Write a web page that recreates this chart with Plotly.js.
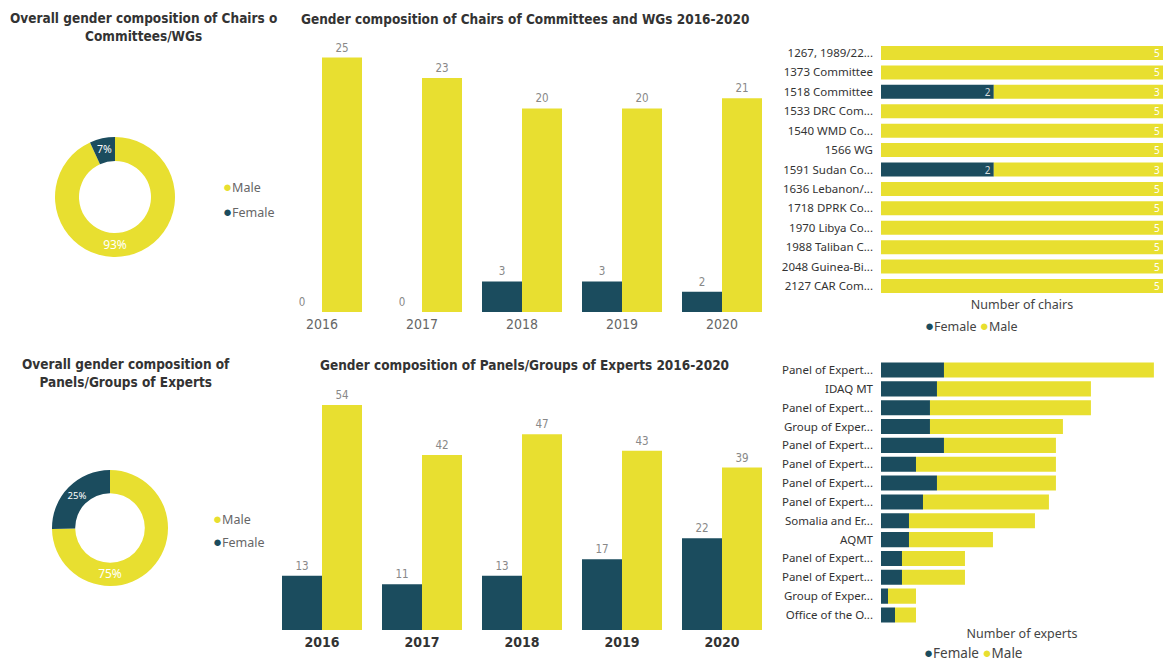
<!DOCTYPE html>
<html>
<head>
<meta charset="utf-8">
<script src="https://cdn.plot.ly/plotly-3.0.1.min.js"></script>
<style>html,body{margin:0;padding:0;background:#fff;}#chart{width:1166px;height:663px;}</style>
</head>
<body>
<div id="chart"></div>
<script>
// ---------- data ----------
const genders = ["Male", "Female"];
const chairsOverall = [109, 8];      // Male, Female
const expertsOverall = [225, 76];    // Male, Female

const years = ["2016", "2017", "2018", "2019", "2020"];
const chairsFemaleByYear = [0, 0, 3, 3, 2];
const chairsMaleByYear = [25, 23, 20, 20, 21];
const expertsFemaleByYear = [13, 11, 13, 17, 22];
const expertsMaleByYear = [54, 42, 47, 43, 39];

const committees = ["1267, 1989/22...", "1373 Committee", "1518 Committee", "1533 DRC Com...", "1540 WMD Co...", "1566 WG", "1591 Sudan Co...", "1636 Lebanon/...", "1718 DPRK Co...", "1970 Libya Co...", "1988 Taliban C...", "2048 Guinea-Bi...", "2127 CAR Com..."];
const committeeFemale = [0, 0, 2, 0, 0, 0, 2, 0, 0, 0, 0, 0, 0];
const committeeMale = [5, 5, 3, 5, 5, 5, 3, 5, 5, 5, 5, 5, 5];

const panels = ["Panel of Expert...", "IDAQ MT", "Panel of Expert...", "Group of Exper...", "Panel of Expert...", "Panel of Expert...", "Panel of Expert...", "Panel of Expert...", "Somalia and Er...", "AQMT", "Panel of Expert...", "Panel of Expert...", "Group of Exper...", "Office of the O..."];
const panelFemale = [9, 8, 7, 7, 9, 5, 8, 6, 4, 4, 3, 3, 1, 2];
const panelMale = [30, 22, 23, 19, 16, 20, 17, 18, 18, 12, 9, 9, 4, 3];

// ---------- style ----------
const YEL = "#E8DF30";
const TEAL = "#1B4C5E";
const W = 1166, H = 663;
const px = v => v / W;
const py = v => 1 - v / H;
const TITLE_FONT = {family: "DejaVu Sans Condensed, DejaVu Sans", size: 13.5, color: "#333"};
const UI = "Noto Sans, Open Sans, sans-serif";
const LABEL_FONT = {family: "DejaVu Sans Condensed", size: 11.5, color: "#888"};

const traces = [];

// Donuts
traces.push({
  type: "pie", labels: genders, values: chairsOverall, hole: 0.6, sort: false,
  direction: "clockwise", marker: {colors: [YEL, TEAL]},
  textinfo: "percent", texttemplate: "%{percent:.0%}", textposition: "inside", insidetextorientation: "horizontal",
  textfont: {family: UI, size: 12, color: "#fff"},
  domain: {x: [px(55), px(175)], y: [py(257), py(137)]}, showlegend: false
});
traces.push({
  type: "pie", labels: genders, values: expertsOverall, hole: 0.6, sort: false,
  direction: "clockwise", marker: {colors: [YEL, TEAL]},
  textinfo: "percent", texttemplate: "%{percent:.0%}", textposition: "inside", insidetextorientation: "horizontal",
  textfont: {family: UI, size: 12, color: "#fff"},
  domain: {x: [px(52), px(168)], y: [py(586), py(470)]}, showlegend: false
});

// Yearly bars - chairs
traces.push({type: "bar", x: years, y: chairsFemaleByYear, name: "Female", marker: {color: TEAL},
  text: chairsFemaleByYear.map(String), textposition: "outside", cliponaxis: false,
  textfont: LABEL_FONT, xaxis: "x", yaxis: "y", showlegend: false});
traces.push({type: "bar", x: years, y: chairsMaleByYear, name: "Male", marker: {color: YEL},
  text: chairsMaleByYear.map(String), textposition: "outside", cliponaxis: false,
  textfont: LABEL_FONT, xaxis: "x", yaxis: "y", showlegend: false});

// Yearly bars - experts
traces.push({type: "bar", x: years, y: expertsFemaleByYear, name: "Female", marker: {color: TEAL},
  text: expertsFemaleByYear.map(String), textposition: "outside", cliponaxis: false,
  textfont: LABEL_FONT, xaxis: "x2", yaxis: "y2", showlegend: false});
traces.push({type: "bar", x: years, y: expertsMaleByYear, name: "Male", marker: {color: YEL},
  text: expertsMaleByYear.map(String), textposition: "outside", cliponaxis: false,
  textfont: LABEL_FONT, xaxis: "x2", yaxis: "y2", showlegend: false});

// Committees hbar (stacked via shared offsetgroup + base)
traces.push({type: "bar", orientation: "h", y: committees, x: committeeFemale, name: "Female", marker: {color: TEAL},
  offsetgroup: "c", width: 0.72, textangle: 0, constraintext: "none",
  text: committeeFemale.map(v => v > 0 ? String(v) : ""), textposition: "inside", insidetextanchor: "end",
  textfont: {family: UI, size: 10, color: "#ddd"}, xaxis: "x3", yaxis: "y3", showlegend: false});
traces.push({type: "bar", orientation: "h", y: committees, x: committeeMale, base: committeeFemale, name: "Male", marker: {color: YEL},
  offsetgroup: "c", width: 0.72, textangle: 0, constraintext: "none",
  text: committeeMale.map(String), textposition: "inside", insidetextanchor: "end",
  textfont: {family: UI, size: 10, color: "#fff"}, xaxis: "x3", yaxis: "y3", showlegend: false});

// Panels hbar (numeric positions keep duplicate labels separate)
const panelPos = panels.map((_, i) => i);
traces.push({type: "bar", orientation: "h", y: panelPos, x: panelFemale, name: "Female", marker: {color: TEAL},
  offsetgroup: "p", width: 0.8, xaxis: "x4", yaxis: "y4", showlegend: false});
traces.push({type: "bar", orientation: "h", y: panelPos, x: panelMale, base: panelFemale, name: "Male", marker: {color: YEL},
  offsetgroup: "p", width: 0.8, xaxis: "x4", yaxis: "y4", showlegend: false});

function dot(color, size) {
  return '<span style="color:' + color + ';font-size:' + size + 'px">●</span>';
}
function legendAnn(text, x, y, anchor, size, color) {
  return {text: text, x: px(x), y: py(y), xref: "paper", yref: "paper", xanchor: anchor, yanchor: "middle",
    showarrow: false, font: {family: UI, size: size, color: color}};
}

const layout = {
  width: W, height: H, margin: {l: 0, r: 0, t: 0, b: 0},
  paper_bgcolor: "#fff", plot_bgcolor: "#fff",
  barmode: "group", bargap: 0.2, bargroupgap: 0,
  showlegend: false,
  xaxis: {domain: [px(272), px(772)], type: "category", showgrid: false, zeroline: false, showline: false, ticks: "",
    ticklabelstandoff: 2, tickfont: {family: "DejaVu Sans Condensed", size: 14, color: "#666"}, anchor: "y", fixedrange: true},
  yaxis: {domain: [py(312), py(27)], range: [0, 28], visible: false, anchor: "x", fixedrange: true},
  xaxis2: {domain: [px(272), px(772)], type: "category", showgrid: false, zeroline: false, showline: false, ticks: "",
    ticklabelstandoff: 2, tickfont: {family: "DejaVu Sans Condensed", size: 14, color: "#333", weight: "bold"}, anchor: "y2", fixedrange: true},
  yaxis2: {domain: [py(630), py(380)], range: [0, 60], visible: false, anchor: "x2", fixedrange: true},
  xaxis3: {domain: [px(881), px(1163)], range: [0, 5], showgrid: false, zeroline: false, showticklabels: false, ticks: "",
    title: {text: "Number of chairs", font: {family: UI, size: 12.5, color: "#444"}, standoff: 4}, anchor: "y3", fixedrange: true},
  yaxis3: {domain: [py(295.7), py(43.3)], type: "category", autorange: "reversed", showgrid: false, ticks: "",
    ticklabelstandoff: 7, tickfont: {family: UI, size: 11.5, color: "#333"}, anchor: "x3", fixedrange: true},
  xaxis4: {domain: [px(881), px(1163)], range: [0, 40.3], showgrid: false, zeroline: false, showticklabels: false, ticks: "",
    title: {text: "Number of experts", font: {family: UI, size: 12.5, color: "#444"}, standoff: 4}, anchor: "y4", fixedrange: true},
  yaxis4: {domain: [py(624.4), py(360.6)], range: [panels.length - 0.5, -0.5], tickmode: "array", tickvals: panelPos, ticktext: panels,
    showgrid: false, zeroline: false, ticks: "", ticklabelstandoff: 7, tickfont: {family: UI, size: 11.5, color: "#333"}, anchor: "x4", fixedrange: true},
  annotations: [
    {text: "<b>Overall gender composition of Chairs o</b><br><b>Committees/WGs</b>", x: px(143), y: py(8), xref: "paper", yref: "paper",
      xanchor: "center", yanchor: "top", showarrow: false, font: TITLE_FONT, align: "center"},
    {text: "<b>Gender composition of Chairs of Committees and WGs 2016-2020</b>", x: px(525), y: py(9), xref: "paper", yref: "paper",
      xanchor: "center", yanchor: "top", showarrow: false, font: TITLE_FONT},
    {text: "<b>Overall gender composition of</b><br><b>Panels/Groups of Experts</b>", x: px(126), y: py(354), xref: "paper", yref: "paper",
      xanchor: "center", yanchor: "top", showarrow: false, font: TITLE_FONT, align: "center"},
    {text: "<b>Gender composition of Panels/Groups of Experts 2016-2020</b>", x: px(524), y: py(355), xref: "paper", yref: "paper",
      xanchor: "center", yanchor: "top", showarrow: false, font: TITLE_FONT},
    legendAnn(dot(YEL, 15) + "Male", 221, 186, "left", 12.5, "#666"),
    legendAnn(dot(TEAL, 15) + "Female", 221, 211, "left", 12.5, "#666"),
    legendAnn(dot(YEL, 15) + "Male", 211, 518, "left", 12.5, "#666"),
    legendAnn(dot(TEAL, 15) + "Female", 211, 541, "left", 12.5, "#666"),
    legendAnn(dot(TEAL, 15) + "Female " + dot(YEL, 15) + "Male", 971, 325, "center", 12.5, "#444"),
    legendAnn(dot(TEAL, 15) + "Female " + dot(YEL, 15) + "Male", 973, 652, "center", 13.5, "#444")
  ]
};

Plotly.newPlot("chart", traces, layout, {displayModeBar: false, staticPlot: true});
</script>
</body>
</html>
